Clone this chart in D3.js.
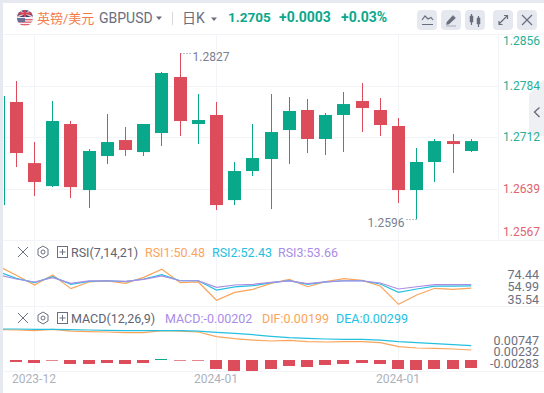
<!DOCTYPE html>
<html>
<head>
<meta charset="utf-8">
<script src="https://cdn.jsdelivr.net/npm/d3@7"></script>
<style>
    html, body { margin: 0; padding: 0; background: #fff; }
    svg { display: block; }
    text { font-family: Roboto, "Noto Sans CJK SC", sans-serif; }
    .axis path, .axis line { display: none; }
</style>
</head>
<body>
<div id="chart"></div>
<script>

// candles, left to right; the first one is cut off by the left edge
const opens  = [1.26164, 1.27615, 1.26755, 1.26431, 1.27305, 1.26375, 1.26854, 1.27079, 1.26910, 1.27178, 1.27967, 1.27305, 1.27432, 1.26234, 1.26643, 1.26812, 1.27220, 1.27502, 1.27094, 1.27432, 1.27629, 1.27502, 1.27277, 1.26375, 1.26770, 1.27065, 1.26925];
const highs  = [1.27699, 1.27910, 1.27051, 1.27629, 1.27347, 1.26953, 1.27446, 1.27263, 1.27305, 1.28037, 1.28301, 1.27727, 1.27615, 1.26770, 1.27305, 1.27727, 1.27685, 1.27657, 1.27460, 1.27755, 1.27882, 1.27671, 1.27389, 1.26967, 1.27094, 1.27164, 1.27094];
const lows   = [1.26164, 1.26699, 1.26291, 1.26417, 1.26262, 1.26122, 1.26741, 1.26854, 1.26854, 1.26995, 1.27136, 1.27023, 1.26094, 1.26164, 1.26572, 1.26108, 1.26741, 1.26896, 1.26868, 1.26910, 1.27192, 1.27136, 1.26192, 1.25967, 1.26488, 1.26615, 1.26910];
const closes = [1.27699, 1.26896, 1.26488, 1.27347, 1.26417, 1.26925, 1.27051, 1.26939, 1.27305, 1.28023, 1.27347, 1.27361, 1.26164, 1.26643, 1.26826, 1.27192, 1.27488, 1.27094, 1.27432, 1.27586, 1.27530, 1.27291, 1.26375, 1.26770, 1.27065, 1.27023, 1.27065];

const rsi1 = [70.0, 61.8, 53.2, 62.0, 50.0, 55.9, 56.8, 54.7, 60.0, 67.1, 55.3, 55.9, 39.7, 46.7, 49.4, 54.7, 58.2, 51.7, 56.2, 58.8, 57.3, 52.3, 36.1, 44.4, 50.3, 49.4, 50.48];
const rsi2 = [65.0, 59.1, 55.3, 60.6, 53.8, 56.5, 57.0, 56.2, 58.5, 62.4, 57.0, 57.0, 48.8, 51.5, 52.6, 55.3, 57.0, 53.8, 55.9, 57.0, 57.0, 54.1, 46.7, 49.7, 52.3, 52.3, 52.43];
const rsi3 = [62.4, 58.5, 55.9, 59.7, 54.7, 56.8, 57.0, 56.5, 58.2, 61.2, 57.0, 57.0, 51.2, 53.2, 53.8, 55.6, 56.8, 54.4, 55.9, 56.8, 56.8, 55.0, 49.7, 51.7, 53.5, 53.5, 53.66];

const dif = [0.00674, 0.00667, 0.00652, 0.00681, 0.00644, 0.00630, 0.00622, 0.00607, 0.00607, 0.00652, 0.00644, 0.00622, 0.00519, 0.00474, 0.00444, 0.00422, 0.00437, 0.00407, 0.00400, 0.00407, 0.00407, 0.00385, 0.00296, 0.00267, 0.00259, 0.00244, 0.00222];
const dea = [0.00689, 0.00689, 0.00681, 0.00681, 0.00674, 0.00667, 0.00659, 0.00652, 0.00652, 0.00652, 0.00652, 0.00644, 0.00615, 0.00593, 0.00563, 0.00526, 0.00496, 0.00481, 0.00467, 0.00459, 0.00459, 0.00444, 0.00407, 0.00385, 0.00363, 0.00341, 0.00319];
const macd = [0, -0.00044, -0.00067, -0.00015, -0.00089, -0.00089, -0.00067, -0.00089, -0.00067, 0.00022, -0.00015, -0.00015, -0.00200, -0.00244, -0.00244, -0.00200, -0.00133, -0.00156, -0.00111, -0.00089, -0.00067, -0.00089, -0.00200, -0.00222, -0.00200, -0.00200, -0.00178];

const priceTicks = [1.2856, 1.2784, 1.2712, 1.2639, 1.2567];
const rsiTicks = ["74.44", "54.99", "35.54"];
const macdTicks = ["0.00747", "0.00232", "-0.00283"];
const dateIndex = [2, 12, 22];
const dateLabels = ["2023-12", "2024-01", "2024-01"];

const W = 544, H = 393;
const green = "#0aa88a", red = "#dc4c5a";
const orange = "#fba55c", cyan = "#25c0e0", purple = "#a98de6";
const gridColor = "#f3f4f7";
const iconColor = "#696e7d";

const svg = d3.select("#chart").append("svg").attr("width", W).attr("height", H);

const defs = svg.append("defs");
defs.append("clipPath").attr("id", "plot-clip")
    .append("rect").attr("x", 3).attr("y", 35).attr("width", 495).attr("height", 340);
defs.append("clipPath").attr("id", "candle-clip")
    .append("rect").attr("x", 4).attr("y", 35).attr("width", 494).attr("height", 205);
defs.append("clipPath").attr("id", "flag-clip")
    .append("circle").attr("cx", 25).attr("cy", 18).attr("r", 8);

const xScale = d3.scaleLinear().domain([0, 26]).range([-1.9, 471.3]);
const yPrice = d3.scaleLinear().domain([1.2784, 1.2639]).range([86, 189]);
const yRsi = d3.scaleLinear().domain([74.44, 35.54]).range([261, 305]);
const yMacd = d3.scaleLinear().domain([0, 0.00747]).range([360, 326.4]);

// frame
svg.append("rect").attr("width", W).attr("height", 3).attr("fill", "#e6eaf0");
svg.append("rect").attr("width", 3).attr("height", H).attr("fill", "#e6eaf0");
[34.5, 240.5, 306.5, 371.5].forEach(y => {
    svg.append("line").attr("x1", 3).attr("x2", W).attr("y1", y).attr("y2", y).attr("stroke", gridColor);
});
svg.append("line").attr("x1", 498.5).attr("x2", 498.5).attr("y1", 35).attr("y2", 240).attr("stroke", gridColor);

// grid
const grid = svg.append("g");
grid.selectAll("line.h").data(priceTicks.slice(1, 4)).join("line")
    .attr("class", "h")
    .attr("x1", 3).attr("x2", 498)
    .attr("y1", d => Math.round(yPrice(d)) + 0.5)
    .attr("y2", d => Math.round(yPrice(d)) + 0.5)
    .attr("stroke", gridColor);
grid.selectAll("line.v").data(dateIndex).join("line")
    .attr("class", "v")
    .attr("x1", d => Math.floor(xScale(d)) + 0.5)
    .attr("x2", d => Math.floor(xScale(d)) + 0.5)
    .attr("y1", 35).attr("y2", 371)
    .attr("stroke", gridColor);

// candles
const plot = svg.append("g").attr("clip-path", "url(#plot-clip)");
const candleG = svg.append("g").attr("clip-path", "url(#candle-clip)");
const candles = opens.map((o, i) => ({i, o, h: highs[i], l: lows[i], c: closes[i]}));
const colorOf = d => d.c >= d.o ? green : red;

candleG.selectAll("line.wick").data(candles).join("line")
    .attr("class", "wick")
    .attr("x1", d => Math.floor(xScale(d.i)) + 0.5)
    .attr("x2", d => Math.floor(xScale(d.i)) + 0.5)
    .attr("y1", d => yPrice(d.h))
    .attr("y2", d => yPrice(d.l))
    .attr("stroke", colorOf);
candleG.selectAll("rect.body").data(candles).join("rect")
    .attr("class", "body")
    .attr("x", d => Math.floor(xScale(d.i)) - 6)
    .attr("width", 13)
    .attr("y", d => yPrice(Math.max(d.o, d.c)))
    .attr("height", d => Math.max(1, Math.abs(yPrice(d.o) - yPrice(d.c))))
    .attr("fill", colorOf);

// high and low markers
const hiLo = [
    {i: 10, p: highs[10], label: "1.2827", dir: 1},
    {i: 23, p: lows[23], label: "1.2596", dir: -1}
];
hiLo.forEach(d => {
    const x0 = Math.floor(xScale(d.i)) + 0.5, y0 = Math.round(yPrice(d.p)) + 0.5;
    svg.append("line")
        .attr("x1", x0).attr("x2", x0 + d.dir * 10)
        .attr("y1", y0).attr("y2", y0)
        .attr("stroke", "#7b8090").attr("stroke-dasharray", "1,2");
    svg.append("text")
        .attr("x", x0 + d.dir * 12).attr("y", y0 + 7)
        .attr("text-anchor", d.dir > 0 ? "start" : "end")
        .attr("font-size", 12).attr("fill", "#7b8090")
        .text(d.label);
});

// RSI lines
const rsiLine = d3.line().x((d, i) => xScale(i)).y(d => yRsi(d));
[[rsi1, orange], [rsi2, cyan], [rsi3, purple]].forEach(([vals, color]) => {
    plot.append("path").attr("d", rsiLine(vals))
        .attr("fill", "none").attr("stroke", color).attr("stroke-width", 1.2);
});

// MACD histogram and lines
plot.selectAll("rect.hist").data(macd).join("rect")
    .attr("class", "hist")
    .attr("x", (d, i) => Math.floor(xScale(i)) - 6)
    .attr("width", 12)
    .attr("y", d => Math.min(yMacd(d), yMacd(0)))
    .attr("height", d => Math.abs(yMacd(d) - yMacd(0)))
    .attr("fill", d => d > 0 ? green : red);

const macdLine = d3.line().x((d, i) => xScale(i)).y(d => yMacd(d));
[[dif, orange], [dea, cyan]].forEach(([vals, color]) => {
    plot.append("path").attr("d", macdLine(vals))
        .attr("fill", "none").attr("stroke", color).attr("stroke-width", 1.2);
});

// side handle, sits under the price labels
svg.append("path").attr("d", "M544,80L529,94V136H544Z").attr("fill", "#eef0f4");
svg.append("path").attr("d", "M539.5,107.5L534.5,112L539.5,117").attr("fill", "none").attr("stroke", iconColor).attr("stroke-width", 1.4);

// price axis, first and last labels are pushed inside the pane
const priceAxis = d3.axisRight(yPrice)
    .tickValues(priceTicks).tickFormat(d3.format(".4f")).tickSize(0).tickPadding(0);
const priceG = svg.append("g").attr("class", "axis").attr("transform", "translate(503, 0)").call(priceAxis);
priceG.selectAll("text")
    .attr("font-size", 12)
    .attr("fill", d => d > 1.27 ? "#27b095" : "#e0636f")
    .attr("transform", d => d === 1.2856 ? "translate(0, 6)" : d === 1.2567 ? "translate(0, -8)" : null);

// sub pane labels sit closer together than their values
const rsiLabelScale = d3.scalePoint().domain(rsiTicks).range([274, 299]);
const macdLabelScale = d3.scalePoint().domain(macdTicks).range([340, 363]);
[[rsiLabelScale], [macdLabelScale]].forEach(([scale]) => {
    svg.append("g").attr("class", "axis").attr("transform", "translate(539, 0)")
        .call(d3.axisLeft(scale).tickSize(0).tickPadding(0))
        .selectAll("text").attr("font-size", 12.5).attr("fill", "#6b7080");
});

// date axis
const dateAxis = d3.axisBottom(xScale)
    .tickValues(dateIndex).tickFormat((d, i) => dateLabels[i]).tickSize(0).tickPadding(0);
svg.append("g").attr("class", "axis").attr("transform", "translate(-1, 374)").call(dateAxis)
    .selectAll("text").attr("font-size", 12).attr("fill", "#aeb2bc");

// header
function label (x, y, text, size, color, weight) {
    return svg.append("text").attr("x", x).attr("y", y)
        .attr("font-size", size).attr("fill", color)
        .attr("font-weight", weight || "normal").text(text);
}
function caret (cx, cy) {
    svg.append("path").attr("d", `M${cx - 3},${cy - 1.5}L${cx + 3},${cy - 1.5}L${cx},${cy + 2}Z`).attr("fill", iconColor);
}

const flag = svg.append("g").attr("clip-path", "url(#flag-clip)");
flag.append("rect").attr("x", 17).attr("y", 10).attr("width", 16).attr("height", 16).attr("fill", "#f3f3f5");
[19, 21.5, 24].forEach(y => flag.append("rect").attr("x", 17).attr("y", y).attr("width", 16).attr("height", 1.3).attr("fill", "#e0636f"));
flag.append("rect").attr("x", 17).attr("y", 10).attr("width", 16).attr("height", 7).attr("fill", "#3a4577");
flag.append("path").attr("d", "M17,10L33,17M33,10L17,17").attr("stroke", "#f2c6cc").attr("stroke-width", 1.6);
flag.append("path").attr("d", "M25,10V17M17,13.5H33").attr("stroke", "#d8414f").attr("stroke-width", 2);
flag.append("rect").attr("x", 17).attr("y", 18).attr("width", 8).attr("height", 4).attr("fill", "#6a7199");

label(37, 22.5, "英镑/美元", 13, "#f47c4c");
label(99, 23, "GBPUSD", 14, iconColor);
caret(159, 18);
svg.append("line").attr("x1", 172.5).attr("x2", 172.5).attr("y1", 12).attr("y2", 25).attr("stroke", "#d5d8df");
label(182, 22.5, "日K", 14, iconColor);
caret(214, 19);
label(228, 22, "1.2705", 13.5, green, "bold");
label(279, 22, "+0.0003", 14, green, "bold");
label(341, 22, "+0.03%", 14, green, "bold");

// toolbar buttons
const buttonX = [417, 441, 465, 493, 517];
svg.selectAll("rect.btn").data(buttonX).join("rect")
    .attr("class", "btn")
    .attr("x", d => d).attr("y", 10).attr("width", 20).attr("height", 20).attr("rx", 4)
    .attr("fill", "#e6e8ef");
function icon (d, fill) {
    svg.append("path").attr("d", d)
        .attr("fill", fill ? iconColor : "none")
        .attr("stroke", iconColor).attr("stroke-width", fill ? 0.5 : 1.2);
}
icon("M422,20L425,16L428,19L431,17.5L433,20M422,24.5H433");
icon("M447,22L453,15.5L455.5,18L449,24L446.5,24.5ZM446,26H456", true);
icon("M470,16h3v6h-3zM477,18h3v6h-3z", true);
icon("M471.5,14V25M478.5,16V27");
icon("M499,24L507,16M504,15.5H507.5V19M499,21V24.5H502.5");
icon("M522,15L532,25M532,15L522,25");

// pane headers
function paneHeader (cy, title, values) {
    const c = "#6b7080";
    svg.append("path").attr("d", `M18,${cy - 5}L28,${cy + 5}M28,${cy - 5}L18,${cy + 5}`).attr("stroke", c).attr("stroke-width", 1);
    svg.append("path").attr("d", `M43,${cy - 6}L48,${cy - 3}V${cy + 3}L43,${cy + 6}L38,${cy + 3}V${cy - 3}Z`).attr("fill", "none").attr("stroke", c).attr("stroke-width", 1);
    svg.append("circle").attr("cx", 43).attr("cy", cy).attr("r", 2).attr("fill", "none").attr("stroke", c);
    svg.append("rect").attr("x", 57.5).attr("y", cy - 5.5).attr("width", 10).attr("height", 11).attr("fill", "none").attr("stroke", c);
    svg.append("path").attr("d", `M59.5,${cy}H65.5M62.5,${cy - 3}V${cy + 3}`).attr("stroke", c);
    label(71, cy + 4.5, title, 12.5, "#5f6472");
    values.forEach(v => label(v.x, cy + 4.5, v.text, 12.5, v.color));
}
paneHeader(252, "RSI(7,14,21)", [
    {x: 145, text: "RSI1:50.48", color: orange},
    {x: 212, text: "RSI2:52.43", color: cyan},
    {x: 278, text: "RSI3:53.66", color: purple}
]);
paneHeader(318, "MACD(12,26,9)", [
    {x: 165, text: "MACD:-0.00202", color: purple},
    {x: 262, text: "DIF:0.00199", color: orange},
    {x: 336, text: "DEA:0.00299", color: cyan}
]);

</script>
</body>
</html>
